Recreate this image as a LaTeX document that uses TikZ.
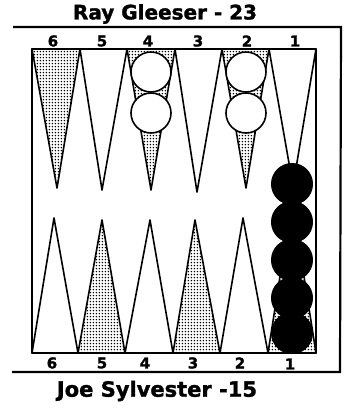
\documentclass[tikz,border=0pt]{standalone}
\usepackage{fontspec}
\setmainfont{DejaVu Sans}
\newfontfamily\heavy{DejaVu Sans Bold}[FakeBold=1.5]
\usetikzlibrary{patterns,patterns.meta}
\pgfdeclarepattern{name=bigdots, type=uncolored,
  bottom left={\pgfpoint{0pt}{0pt}}, top right={\pgfpoint{3.4pt}{3.4pt}},
  tile size={\pgfpoint{3.4pt}{3.4pt}},
  code={\pgfpathcircle{\pgfpoint{1.7pt}{1.7pt}}{0.9pt}\pgfusepath{fill}}}
\begin{document}
\begin{tikzpicture}[x=1pt,y=-1pt,
  frameline/.style={line width=2.2pt},
  boardline/.style={line width=1.8pt, line join=round},
  pointw/.style={draw, line width=1.6pt, fill=white, line join=round},
  pointd/.style={draw, line width=1.6pt, pattern=bigdots, line join=round},
  wchk/.style={circle, draw, line width=1.6pt, fill=white, minimum size=40pt, inner sep=0pt},
  bchk/.style={circle, draw, line width=1pt, fill=black, minimum size=41pt, inner sep=0pt},
  num/.style={font=\heavy\fontsize{15}{15}\selectfont, inner sep=0pt},
  player/.style={font=\heavy\fontsize{21}{21}\selectfont, inner sep=0pt}]
\useasboundingbox (0,0) rectangle (351,408);
% names
\node[player, font=\heavy\fontsize{20}{20}\selectfont] (top) at (165,14) {Ray Gleeser - 23};
\node[player] (bot) at (157,391) {Joe Sylvester -15};
% outer frame
\draw[frameline] (13,27) -- (341,27) -- (340,372) -- (12,372);
% top points
\draw[pointd] (32,49) -- (80,49) -- (57,188) -- cycle;
\draw[pointw] (80,49) -- (127,49) -- (102,190) -- cycle;
\draw[pointd] (127,49) -- (175,49) -- (151,190) -- cycle;
\draw[pointw] (175,49) -- (222,49) -- (197,192) -- cycle;
\draw[pointd] (222,49) -- (269,49) -- (246,188) -- cycle;
\draw[pointw] (269,49) -- (316,49) -- (293,186) -- cycle;
% bottom points
\draw[pointw] (32,353) -- (78,353) -- (54,218) -- cycle;
\draw[pointd] (78,353) -- (125,353) -- (102,220) -- cycle;
\draw[pointw] (125,353) -- (173,353) -- (150,220) -- cycle;
\draw[pointd] (173,353) -- (220,353) -- (195,220) -- cycle;
\draw[pointw] (220,353) -- (268,353) -- (243,218) -- cycle;
\draw[pointd] (268,353) -- (316,353) -- (292,200) -- cycle;
% board
\draw[boardline] (32,49) rectangle (316,353);
% white checkers
\node[wchk] (w41) at (151,72) {};
\node[wchk] (w42) at (151,113) {};
\node[wchk] (w21) at (246,72) {};
\node[wchk] (w22) at (246,113) {};
% black checkers
\node[bchk] (b1) at (292,184) {};
\node[bchk] (b2) at (292,222) {};
\node[bchk] (b3) at (292,260) {};
\node[bchk] (b4) at (292,298) {};
\node[bchk] (b5) at (292,333) {};
% top numbers
\node[num] (t6) at (53,41) {6};
\node[num] (t5) at (102,41) {5};
\node[num] (t4) at (148,41) {4};
\node[num] (t3) at (198,41) {3};
\node[num] (t2) at (247,41) {2};
\node[num] (t1) at (295,41) {1};
% bottom numbers
\node[num] (n6) at (52,363) {6};
\node[num] (n5) at (102,363) {5};
\node[num] (n4) at (145,363) {4};
\node[num] (n3) at (193,363) {3};
\node[num] (n2) at (240,363) {2};
\node[num] (n1) at (290,364) {1};
\end{tikzpicture}
\end{document}
